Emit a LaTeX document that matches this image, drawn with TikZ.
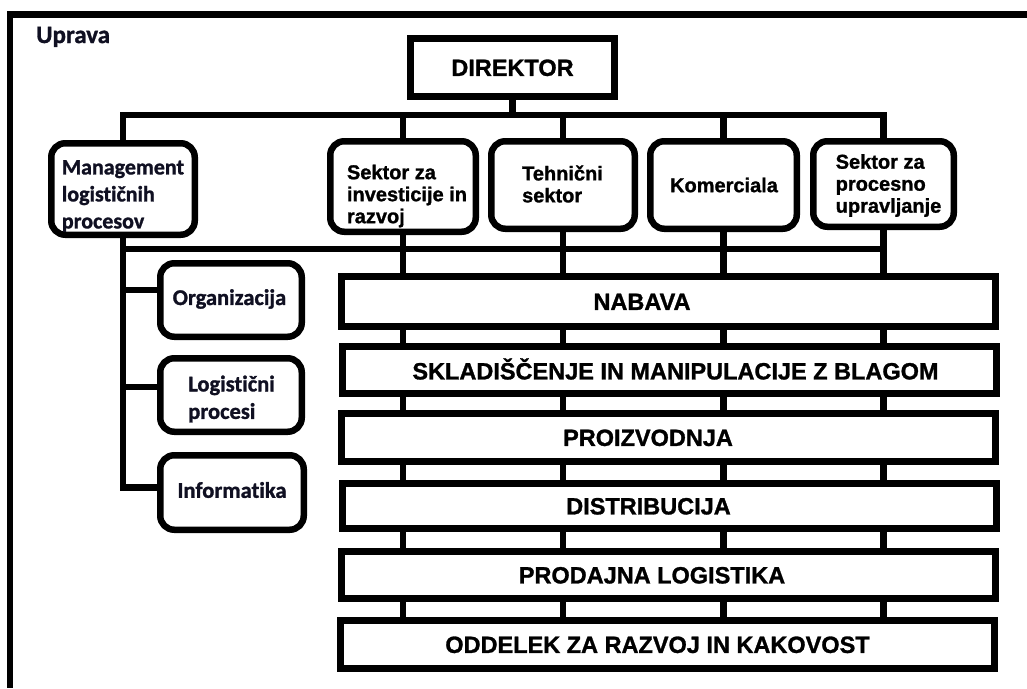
\documentclass[tikz,border=0pt]{standalone}
\usepackage{fontspec}
\setmainfont{Liberation Sans}
\newfontfamily\arialbf{Liberation Sans}[UprightFont={* Bold}, FakeBold=1.2]
\newfontfamily\calibbf{Carlito}[UprightFont={* Bold}, Ligatures=NoCommon, FakeBold=1.2]
\usetikzlibrary{calc}
\definecolor{inkblue}{RGB}{16,16,34}

\begin{document}
\begin{tikzpicture}[x=1pt,y=-1pt,
  conn/.style={line width=6.5pt},
  sharpbox/.style={draw, line width=7pt, fill=white, inner sep=0pt},
  roundbox/.style={draw, line width=6.5pt, rounded corners=14pt, fill=white, inner sep=0pt},
  ariallbl/.style={font=\arialbf\fontsize{20}{22}\selectfont, align=left, inner sep=0pt},
  calilbl/.style={font=\calibbf\fontsize{22.5}{27.5}\selectfont, text=inkblue, align=left, inner sep=0pt},
  barlbl/.style={font=\arialbf\fontsize{23.5}{26}\selectfont, inner sep=0pt,
                 text height=16.8pt, text depth=0pt},
  bar/.style={sharpbox, minimum width=654pt},
]
\useasboundingbox (0,0) rectangle (1027,688);
\fill[white] (0,0) rectangle (1027,688);

% outer frame (runs off the right and bottom edges)
\draw[line width=6.5pt] (1027,14.5) -- (10,14.5) -- (10,688);

\node[calilbl, anchor=base west, font=\calibbf\fontsize{25}{27}\selectfont] (upr) at (36,43) {Uprava};

% director
\node[sharpbox, barlbl, minimum width=204.5pt, minimum height=58.5pt] (dir) at (512.5,67.5) {DIREKTOR};

% sectors
\node[roundbox, minimum width=143.5pt, minimum height=91.5pt] (mgmt) at (123,189) {};
\node[roundbox, minimum width=145.5pt, minimum height=90.5pt] (inv) at (403,186.5) {};
\node[roundbox, minimum width=143.5pt, minimum height=87.5pt] (teh) at (563,185) {};
\node[roundbox, minimum width=146.5pt, minimum height=87.5pt] (kom) at (723.5,185) {};
\node[roundbox, minimum width=140.5pt, minimum height=85.5pt] (proc) at (883.5,184) {};

\node[calilbl, font=\calibbf\fontsize{22}{27}\selectfont] (mgmtT) at (123,196) {Management\\logističnih\\procesov};
\node[ariallbl] (invT) at (407,196) {Sektor za\\investicije in\\razvoj};
\node[ariallbl] (tehT) at (562.5,184) {Tehnični\\sektor};
\node[ariallbl] (komT) at (724,185) {Komerciala};
\node[ariallbl] (procT) at (888.5,185.5) {Sektor za\\procesno\\upravljanje};

% logistics management units
\node[roundbox, minimum width=141.5pt, minimum height=73.5pt] (org) at (231,300) {};
\node[roundbox, minimum width=141.5pt, minimum height=73.5pt] (log) at (231,395) {};
\node[roundbox, minimum width=143.5pt, minimum height=74.5pt] (inf) at (232,492.5) {};

\node[calilbl] (orgT) at (229.5,299) {Organizacija};
\node[calilbl] (logT) at (231.5,399) {Logistični\\procesi};
\node[calilbl] (infT) at (232,490) {Informatika};

% process bars
\node[bar, minimum height=50pt, label={[barlbl, xshift=-26.5pt]center:NABAVA}] (nab) at (668.5,301.5) {};
\node[bar, minimum height=47pt, label={[barlbl, xshift=6.5pt, yshift=-1pt]center:SKLADIŠČENJE IN MANIPULACIJE Z BLAGOM}] (skl) at (669,370) {};
\node[bar, minimum height=48pt, label={[barlbl, xshift=-20.5pt]center:PROIZVODNJA}] (pro) at (668.5,437.5) {};
\node[bar, minimum height=45pt, label={[barlbl, xshift=-20.5pt]center:DISTRIBUCIJA}] (dis) at (669,506) {};
\node[bar, minimum height=47pt, label={[barlbl, xshift=-16pt]center:PRODAJNA LOGISTIKA}] (prd) at (668,575) {};
\node[bar, minimum height=48pt, label={[barlbl, xshift=-10pt]center:ODDELEK ZA RAZVOJ IN KAKOVOST}] (odd) at (667.5,644.5) {};

% connectors
\coordinate (b1) at (0,115);
\coordinate (b2) at (0,249);
\coordinate (orgj) at ([yshift=10pt]org.west);
\coordinate (logj) at ([yshift=8pt]log.west);
\coordinate (infj) at ([yshift=5pt]inf.west);

\draw[conn] (mgmt) -- (mgmt |- b1) -- (proc |- b1) -- (proc);
\draw[conn] (dir) -- (dir |- b1);
\foreach \s in {inv,teh,kom} \draw[conn] (\s) -- (\s |- b1);

\draw[conn] (mgmt |- b2) -- (proc |- b2);
\foreach \s in {inv,teh,kom,proc} \draw[conn] (\s) -- (\s |- nab.north);

\draw[conn] (mgmt) -- (mgmt |- infj) -- (infj);
\draw[conn] (mgmt |- orgj) -- (orgj);
\draw[conn] (mgmt |- logj) -- (logj);

\foreach \a/\b in {nab/skl,skl/pro,pro/dis,dis/prd,prd/odd}
  \foreach \s in {inv,teh,kom,proc}
    \draw[conn] (\a.south -| \s) -- (\b.north -| \s);
\end{tikzpicture}
\end{document}
